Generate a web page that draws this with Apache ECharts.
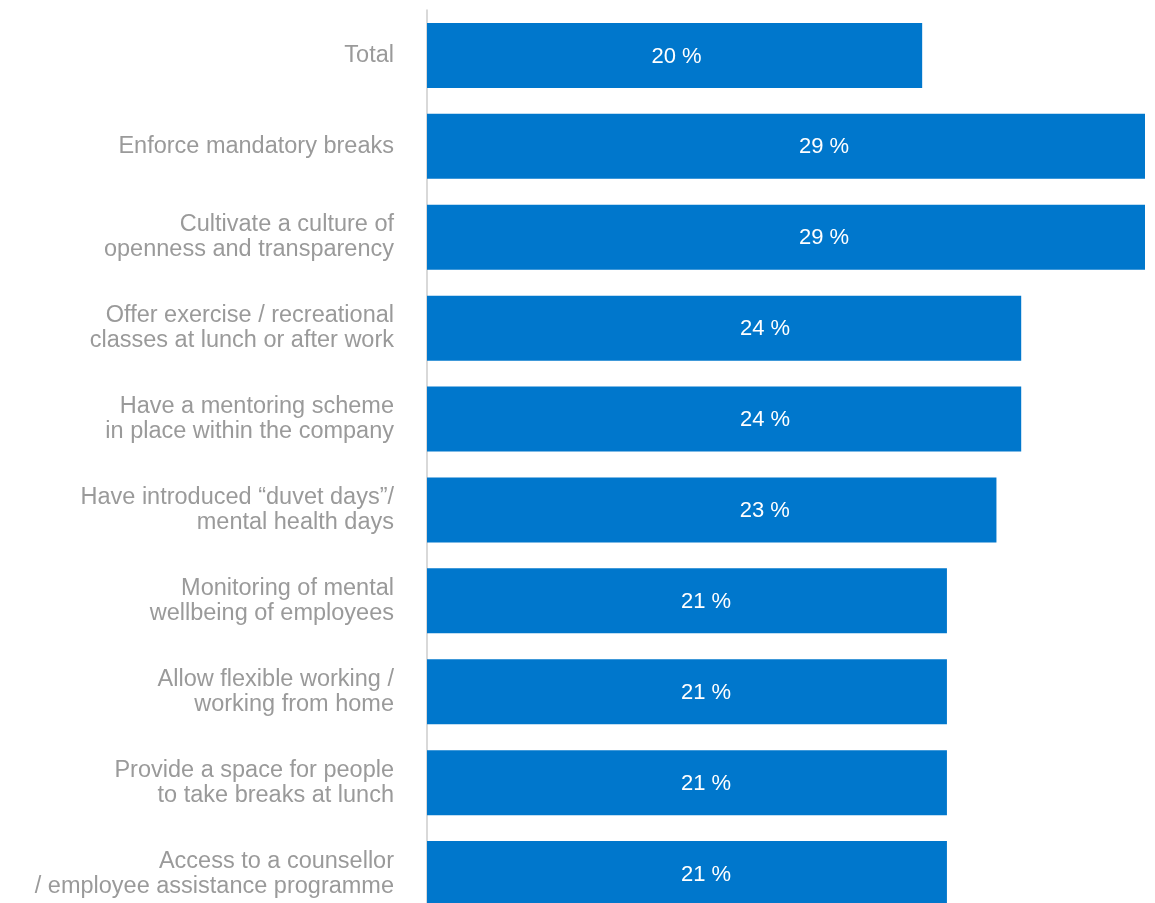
<!DOCTYPE html>
<html>
<head>
<meta charset="utf-8">
<script src="https://cdn.jsdelivr.net/npm/echarts@6/dist/echarts.min.js"></script>
<style>
  html, body { margin: 0; padding: 0; background: #fff; overflow: hidden; }
  /* the last bar runs past the bottom edge of the page */
  #chart { width: 1155px; height: 930px; }
</style>
</head>
<body>
<div id="chart"></div>
<script>
// Measures employers take to support mental wellbeing (share of respondents)
const categories = [
  'Total',
  'Enforce mandatory breaks',
  'Cultivate a culture of\nopenness and transparency',
  'Offer exercise / recreational\nclasses at lunch or after work',
  'Have a mentoring scheme\nin place within the company',
  'Have introduced \u201cduvet days\u201d/\nmental health days',
  'Monitoring of mental\nwellbeing of employees',
  'Allow flexible working /\nworking from home',
  'Provide a space for people\nto take breaks at lunch',
  'Access to a counsellor\n/ employee assistance programme'
];
const values = [20, 29, 29, 24, 24, 23, 21, 21, 21, 21];

// horizontal nudge of each value label inside its bar
const labelShift = [2, 38, 38, 41, 41, 53, 19, 19, 19, 19];

const FONT = '"Liberation Sans", Arial, sans-serif';

const chart = echarts.init(document.getElementById('chart'), null, { renderer: 'canvas' });
chart.setOption({
  animation: false,
  grid: { left: 427, top: 10, width: 718, height: 909, containLabel: false },
  xAxis: {
    type: 'value', min: 0, max: 29,
    show: false
  },
  yAxis: {
    type: 'category',
    inverse: true,
    data: categories,
    axisLine: { show: true, lineStyle: { color: '#cccccc', width: 1.5 } },
    axisTick: { show: false },
    axisLabel: {
      margin: 33,
      color: '#9a9a9a',
      fontSize: 23.5,
      fontFamily: FONT,
      lineHeight: 25,
      padding: [3, 0, 0, 0],
      align: 'right'
    }
  },
  series: [{
    type: 'bar',
    barWidth: 65,
    data: values.map((v, i) => ({
      value: v,
      label: { offset: [labelShift[i], 1] }
    })),
    itemStyle: { color: '#0077cc' },
    label: {
      show: true,
      position: 'inside',
      color: '#ffffff',
      fontSize: 22,
      fontFamily: FONT,
      formatter: p => p.value + ' %'
    }
  }]
});
</script>
</body>
</html>
